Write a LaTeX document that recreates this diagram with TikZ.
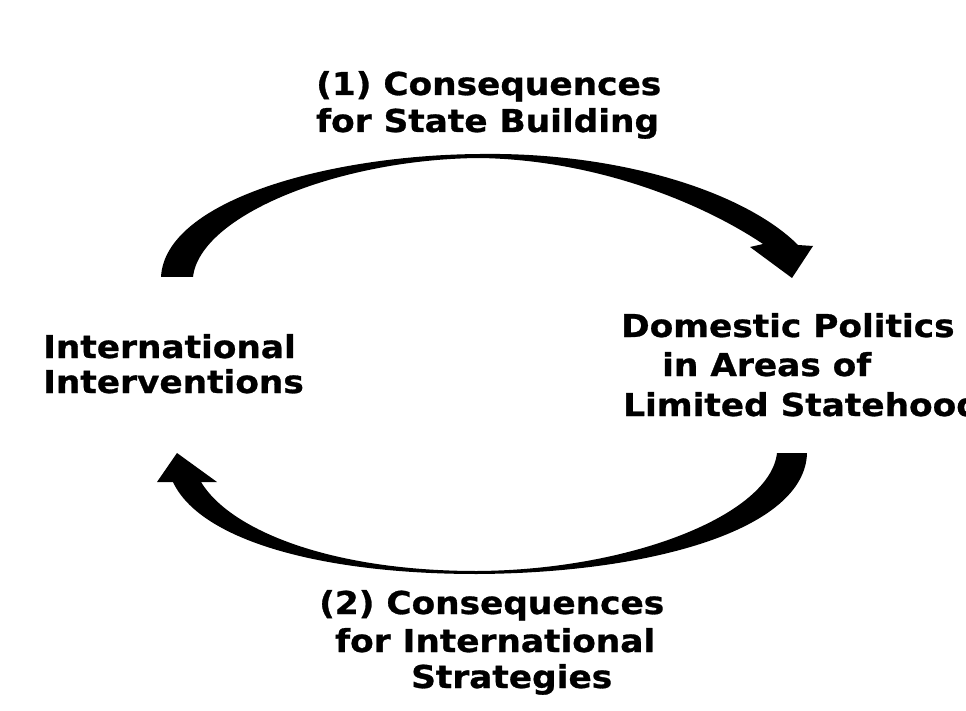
\documentclass[tikz,border=0pt]{standalone}
\usepackage{fontspec}
\newfontfamily\lblfont[FakeStretch=1.09,FakeBold=0.9]{DejaVu Sans}
\begin{document}
\begin{tikzpicture}[x=1pt,y=-1pt,
  lbl/.style={anchor=base west,inner sep=0pt,font=\lblfont\bfseries\fontsize{31.5}{37}\selectfont,text=black},
  arrowshape/.style={fill=black,draw=none}]
\useasboundingbox[fill=white] (0,0) rectangle (966,711);
% labels
\node[lbl] (t1a) at (316,95) {(1) Consequences};
\node[lbl] (t1b) at (316,132) {for State Building};
\node[lbl] (la) at (43,358) {International};
\node[lbl] (lb) at (43,393) {Interventions};
\node[lbl] (ra) at (621,337) {Domestic Politics};
\node[lbl] (rb) at (662,376) {in Areas of};
\node[lbl] (rc) at (623,416) {Limited Statehood};
\node[lbl] (t2a) at (319,614) {(2) Consequences};
\node[lbl] (t2b) at (335,652) {for International};
\node[lbl] (t2c) at (411,688) {Strategies};
% top arrow (International Interventions -> Domestic Politics)
\coordinate (topstartL) at (161,277);
\coordinate (topstartR) at (193,277);
\coordinate (topinner) at (480,158);
\coordinate (topouter) at (480,154);
\coordinate (topshaftL) at (763,244);
\coordinate (topshaftR) at (798,245);
\coordinate (topheadL) at (750,247);
\coordinate (topheadR) at (813,246);
\coordinate (toptip) at (792,278);
\fill[arrowshape] (topstartL) -- (topstartR)
  .. controls (200,215) and (340,159) .. (topinner)
  .. controls (600,160) and (705,205) .. (topshaftL)
  -- (topheadL) -- (toptip) -- (topheadR) -- (topshaftR)
  .. controls (745,192) and (620,152) .. (topouter)
  .. controls (330,155) and (165,200) .. (topstartL) -- cycle;
% bottom arrow (Domestic Politics -> International Interventions)
\coordinate (botstartR) at (807,453);
\coordinate (botstartL) at (777,453);
\coordinate (botouter) at (477,574);
\coordinate (botinner) at (477,571);
\coordinate (botshaftL) at (173,482);
\coordinate (botshaftR) at (201,482);
\coordinate (botheadL) at (157,482);
\coordinate (botheadR) at (217,482);
\coordinate (bottip) at (177,453);
\fill[arrowshape] (botstartR)
  .. controls (805,530) and (650,573) .. (botouter)
  .. controls (320,574) and (200,540) .. (botshaftL)
  -- (botheadL) -- (bottip) -- (botheadR) -- (botshaftR)
  .. controls (230,530) and (330,571) .. (botinner)
  .. controls (630,570) and (770,515) .. (botstartL) -- cycle;
\end{tikzpicture}
\end{document}
